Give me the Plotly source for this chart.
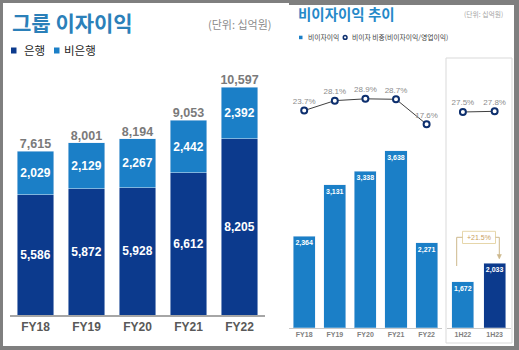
import plotly.graph_objects as go

# ---------------- data ----------------
years = ["FY18", "FY19", "FY20", "FY21", "FY22"]
bank = [5586, 5872, 5928, 6612, 8205]
nonbank = [2029, 2129, 2267, 2442, 2392]
totals = [7615, 8001, 8194, 9053, 10597]

nii_years = ["FY18", "FY19", "FY20", "FY21", "FY22"]
nii = [2364, 3131, 3338, 3638, 2271]
nii_ratio = [23.7, 28.1, 28.9, 28.7, 17.6]

halves = ["1H22", "1H23"]
nii_half = [1672, 2033]
ratio_half = [27.5, 27.8]
growth_label = "+21.5%"

# ---------------- style ----------------
W, H = 519, 350
NAVY = "#0c3a8d"
BLUE = "#1b7fc7"
TITLE_BLUE = "#2b80b9"
NUM_FONT = "Arial, Liberation Sans, sans-serif"
KR_FONT = "Noto Sans CJK KR, sans-serif"


def fx(px):
    return px / W


def fy(py):
    return 1 - py / H


fig = go.Figure()

# left panel: stacked bars
fig.add_trace(go.Bar(
    x=years, y=bank, width=0.725, marker_color=NAVY,
    text=[f"{v:,}" for v in bank], textposition="inside", insidetextanchor="middle",
    constraintext="none", textangle=0,
    textfont=dict(family=NUM_FONT, size=12, color="white", weight="bold"),
    xaxis="x", yaxis="y", hoverinfo="skip"))
fig.add_trace(go.Bar(
    x=years, y=nonbank, width=0.725, marker_color=BLUE,
    text=[f"{v:,}" for v in nonbank], textposition="inside", insidetextanchor="middle",
    constraintext="none", textangle=0,
    textfont=dict(family=NUM_FONT, size=12, color="white", weight="bold"),
    xaxis="x", yaxis="y", hoverinfo="skip"))
fig.add_trace(go.Scatter(
    x=years, y=totals, mode="text", text=[f"{v:,}" for v in totals],
    textposition="top center",
    textfont=dict(family=NUM_FONT, size=12.5, color="#7a7a7a", weight="bold"),
    xaxis="x", yaxis="y", hoverinfo="skip"))

# right panel: FY bars
fig.add_trace(go.Bar(
    x=nii_years, y=nii, width=0.72, marker_color=BLUE,
    text=[f"{v:,}" for v in nii], textposition="inside", insidetextanchor="end",
    constraintext="none", textangle=0,
    textfont=dict(family=NUM_FONT, size=7, color="white", weight="bold"),
    xaxis="x2", yaxis="y2", hoverinfo="skip"))
fig.add_trace(go.Scatter(
    x=nii_years, y=nii_ratio, mode="lines+markers+text",
    text=[f"{v}%" for v in nii_ratio], textposition="top center",
    textfont=dict(family=NUM_FONT, size=8, color="#8c8c8c"),
    line=dict(color="#404040", width=1),
    marker=dict(symbol="circle", size=6, color="white", line=dict(color="#0d2f6e", width=2)),
    xaxis="x2", yaxis="y3", hoverinfo="skip"))

# right panel: half-year bars
fig.add_trace(go.Bar(
    x=halves, y=nii_half, width=0.69, marker_color=[BLUE, NAVY],
    text=[f"{v:,}" for v in nii_half], textposition="inside", insidetextanchor="end",
    constraintext="none", textangle=0,
    textfont=dict(family=NUM_FONT, size=7, color="white", weight="bold"),
    xaxis="x3", yaxis="y4", hoverinfo="skip"))
fig.add_trace(go.Scatter(
    x=halves, y=ratio_half, mode="lines+markers+text",
    text=[f"{v}%" for v in ratio_half], textposition="top center",
    textfont=dict(family=NUM_FONT, size=8, color="#8c8c8c"),
    line=dict(color="#404040", width=1),
    marker=dict(symbol="circle", size=6, color="white", line=dict(color="#0d2f6e", width=2)),
    xaxis="x3", yaxis="y5", hoverinfo="skip"))

# ---------------- axes ----------------
left_scale = 0.0215      # px per unit
fy_scale = 0.067
h_scale = 0.051
pct_scale = 2.255

tick_big = dict(family=NUM_FONT, size=12, color="#595959", weight="bold")
tick_small = dict(family=NUM_FONT, size=7, color="#7f7f7f", weight="bold")

layout_axes = dict(
    xaxis=dict(domain=[fx(10), fx(265)], range=[-0.5, 4.5], anchor="y",
               showline=True, linecolor="#a6a6a6", linewidth=1.5, ticks="",
               tickfont=tick_big, showgrid=False, zeroline=False, fixedrange=True),
    yaxis=dict(domain=[fy(315), fy(70)], range=[0, 245 / left_scale], anchor="x",
               visible=False, fixedrange=True),
    xaxis2=dict(domain=[fx(288.9), fx(441.9)], range=[-0.5, 4.5], anchor="y2",
                showline=True, linecolor="#c8c8c8", linewidth=1, ticks="",
                tickfont=tick_small, showgrid=False, zeroline=False, fixedrange=True),
    yaxis2=dict(domain=[fy(327.7), fy(140)], range=[1000, 1000 + 187.7 / fy_scale],
                anchor="x2", visible=False, fixedrange=True),
    yaxis3=dict(domain=[fy(164 - pct_scale * 10), fy(164 - pct_scale * 35)], range=[10, 35],
                anchor="x2", visible=False, fixedrange=True),
    xaxis3=dict(domain=[fx(447), fx(510.5)], range=[-0.5, 1.5], anchor="y4",
                showline=True, linecolor="#c8c8c8", linewidth=1, ticks="",
                tickfont=tick_small, showgrid=False, zeroline=False, fixedrange=True),
    yaxis4=dict(domain=[fy(327.7), fy(140)], range=[770, 770 + 187.7 / h_scale],
                anchor="x3", visible=False, fixedrange=True),
    yaxis5=dict(domain=[fy(174 - pct_scale * 10), fy(174 - pct_scale * 35)], range=[10, 35],
                anchor="x3", visible=False, fixedrange=True),
)

# ---------------- decorations ----------------
shapes = [
    # white panel
    dict(type="rect", xref="paper", yref="paper", x0=fx(3), x1=fx(514), y0=fy(346), y1=fy(3),
         fillcolor="white", line=dict(width=0), layer="below"),
    # grey top band over right panel
    dict(type="rect", xref="paper", yref="paper", x0=fx(289), x1=fx(519), y0=fy(5), y1=fy(0),
         fillcolor="#7f7f7f", line=dict(width=0), layer="below"),
    # half-year box
    dict(type="rect", xref="paper", yref="paper", x0=fx(446), x1=fx(512), y0=fy(343), y1=fy(58),
         line=dict(color="#d9d9d9", width=1), fillcolor="rgba(0,0,0,0)", layer="below"),
    # left legend squares
    dict(type="rect", xref="paper", yref="paper", x0=fx(11), x1=fx(16.5), y0=fy(53.5), y1=fy(47.5),
         fillcolor=NAVY, line=dict(width=0)),
    dict(type="rect", xref="paper", yref="paper", x0=fx(54), x1=fx(59.5), y0=fy(53.5), y1=fy(47.5),
         fillcolor=BLUE, line=dict(width=0)),
    # right legend square and circle
    dict(type="rect", xref="paper", yref="paper", x0=fx(299), x1=fx(302.5), y0=fy(39.2), y1=fy(35.7),
         fillcolor=BLUE, line=dict(width=0)),
    dict(type="circle", xref="paper", yref="paper", x0=fx(343.3), x1=fx(347), y0=fy(39.3), y1=fy(35.6),
         fillcolor="white", line=dict(color="#0d2f6e", width=1.5)),
    # growth box
    dict(type="rect", xref="paper", yref="paper", x0=fx(462.5), x1=fx(495.5), y0=fy(243.5), y1=fy(231.3),
         fillcolor="white", line=dict(color="#e6d6aa", width=1)),
    # bracket lines
    dict(type="path", xref="paper", yref="paper",
         path=f"M {fx(456.7)},{fy(266)} L {fx(456.7)},{fy(237.3)} L {fx(462.5)},{fy(237.3)}",
         line=dict(color="#cdb88c", width=1)),
    dict(type="path", xref="paper", yref="paper",
         path=f"M {fx(495.5)},{fy(237.3)} L {fx(499.3)},{fy(237.3)} L {fx(499.3)},{fy(255)}",
         line=dict(color="#cdb88c", width=1)),
    dict(type="path", xref="paper", yref="paper",
         path=f"M {fx(497.2)},{fy(254.5)} L {fx(501.4)},{fy(254.5)} L {fx(499.3)},{fy(259)} Z",
         fillcolor="#cdb88c", line=dict(color="#cdb88c", width=0.5)),
]

annotations = [
    dict(text="<b>그룹 이자이익</b>", x=fx(10), y=fy(22), xanchor="left", yanchor="middle",
         font=dict(family=KR_FONT, size=21, color=TITLE_BLUE)),
    dict(text="(단위: 십억원)", x=fx(206), y=fy(24), xanchor="left", yanchor="middle",
         font=dict(family=KR_FONT, size=11, color="#8c8c8c")),
    dict(text="은행", x=fx(22), y=fy(50), xanchor="left", yanchor="middle",
         font=dict(family=KR_FONT, size=11.5, color="#262626")),
    dict(text="비은행", x=fx(61.5), y=fy(50), xanchor="left", yanchor="middle",
         font=dict(family=KR_FONT, size=11.5, color="#262626")),
    dict(text="<b>비이자이익 추이</b>", x=fx(296), y=fy(13), xanchor="left", yanchor="middle",
         font=dict(family=KR_FONT, size=14.5, color="#2589c9")),
    dict(text="(단위: 십억원)", x=fx(462), y=fy(14), xanchor="left", yanchor="middle",
         font=dict(family=KR_FONT, size=6.8, color="#a6a6a6")),
    dict(text="비이자이익", x=fx(305.5), y=fy(37.3), xanchor="left", yanchor="middle",
         font=dict(family=KR_FONT, size=6.8, color="#404040")),
    dict(text="비이자 비중(비이자이익/영업이익)", x=fx(349.5), y=fy(37.3), xanchor="left", yanchor="middle",
         font=dict(family=KR_FONT, size=6.8, color="#404040")),
    dict(text=growth_label, x=fx(479), y=fy(237.4), xanchor="center", yanchor="middle",
         font=dict(family=NUM_FONT, size=7, color="#c9a060")),
]
for a in annotations:
    a.update(xref="paper", yref="paper", showarrow=False)

fig.update_layout(
    width=W, height=H, margin=dict(l=0, r=0, t=0, b=0),
    paper_bgcolor="#7f7f7f", plot_bgcolor="rgba(0,0,0,0)",
    barmode="stack", showlegend=False,
    shapes=shapes, annotations=annotations,
    **layout_axes,
)

fig.write_html("out.html")
